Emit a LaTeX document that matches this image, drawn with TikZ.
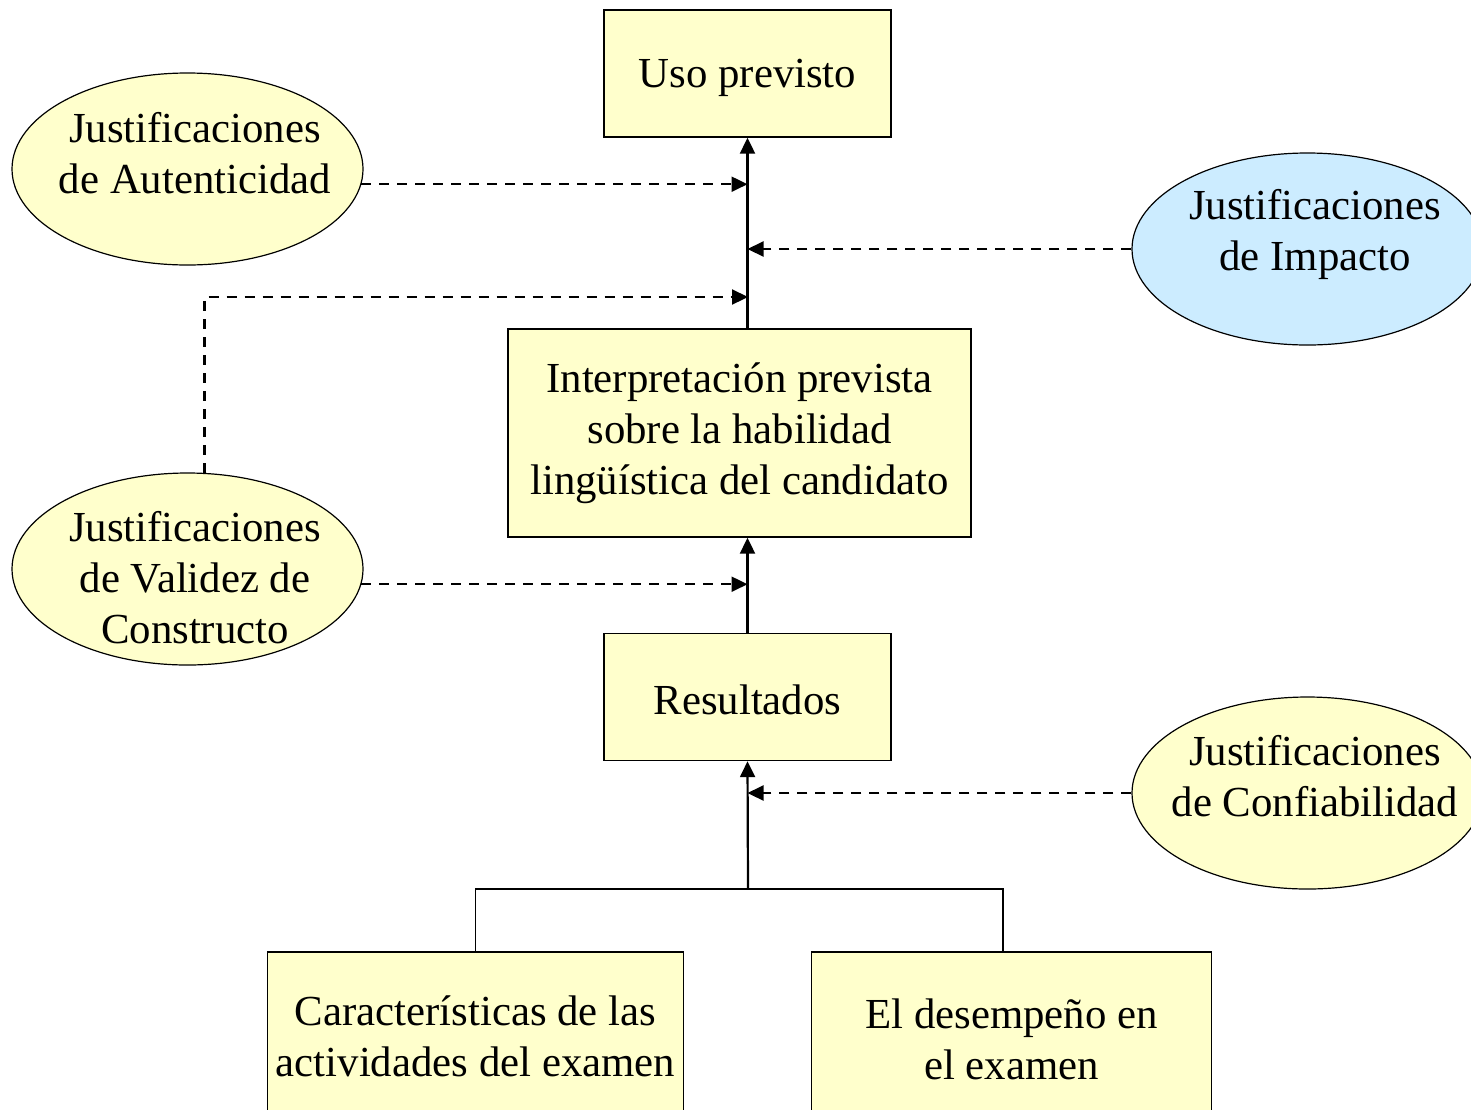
\documentclass[tikz,border=0pt]{standalone}
\usepackage{fontspec}
\setmainfont{Liberation Serif}
\usetikzlibrary{shapes.geometric,arrows.meta}
\definecolor{amarillo}{RGB}{255,255,204}
\definecolor{celeste}{RGB}{204,236,255}

\begin{document}
\begin{tikzpicture}[x=0.5pt,y=-0.5pt,
	every node/.style={font=\fontsize{21.4}{25.5}\selectfont,align=center},
	caja/.style={draw,line width=0.7pt,fill=amarillo,minimum width=143.5pt,minimum height=63.5pt,inner sep=0pt},
	just/.style={ellipse,draw,line width=0.6pt,fill=amarillo,minimum width=175.5pt,minimum height=96pt,inner sep=0pt},
	flecha/.style={line width=1.1pt,-{Triangle[length=8pt,width=7.5pt]}},
	discont/.style={flecha,dash pattern=on 5pt off 4pt}]
	\useasboundingbox (0,0) rectangle (1471,1109);
	% cajas
	\node[caja,text height=19pt,text depth=4.6pt] (uso) at (747.5,73.5) {Uso previsto};
	\node[caja,minimum width=231.5pt,minimum height=104pt] (int) at (739.5,433) {Interpretación prevista\\sobre la habilidad\\lingüística del candidato};
	\node[caja,text height=17.6pt,text depth=0pt] (res) at (747.5,697) {Resultados};
	\node[caja,minimum width=208pt,minimum height=84pt] (car) at (475.5,1036) {Características de las\\actividades del examen};
	\node[caja,minimum width=200pt,minimum height=87pt] (des) at (1011.5,1039) {El desempeño en\\el examen};
	% justificaciones
	\node[just] (aut) at (187.5,169) {};
	\node (autt) at (195,153) {Justificaciones\\de Autenticidad};
	\node[just,fill=celeste] (imp) at (1307.5,249) {};
	\node (impt) at (1315,234) {Justificaciones\\de Impacto};
	\node[just] (val) at (187.5,569) {};
	\node (valt) at (195,578) {Justificaciones\\de Validez de\\Constructo};
	\node[just] (con) at (1307.5,793) {};
	\node (cont) at (1315,776) {Justificaciones\\de Confiabilidad};
	% flechas
	\coordinate (bif) at (748,889);
	\coordinate (desn) at (1003,953);
	\coordinate (valc) at (748,297);
	\draw[flecha] (uso.south |- int.north) -- (uso.south);
	\draw[flecha] (res.north) -- (res.north |- int.south);
	\draw[flecha] (bif) -- (res.south);
	\draw[line width=0.6pt] (car.north) |- (bif) -| (desn);
	\draw[discont] (aut.-5.3) -- (aut.-5.3 -| uso.south);
	\draw[discont] (imp.west) -- (imp.west -| uso.south);
	\draw[discont] (val.80) |- (valc);
	\draw[discont] (val.-5.3) -- (val.-5.3 -| res.north);
	\draw[discont] (con.west) -- (con.west -| res.south);
\end{tikzpicture}
\end{document}
